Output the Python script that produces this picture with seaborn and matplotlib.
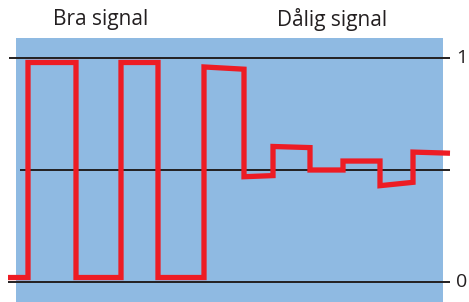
import pandas as pd
import seaborn as sns
import matplotlib.pyplot as plt

# signal vertices (x in picture units, y as signal level 0..1)
signal_x = [8, 28, 28, 76, 76, 121, 121, 158, 158, 204, 204, 244, 244, 273, 273,
            310, 310, 343, 343, 380, 380, 413, 413, 450]
signal_y = [0.02, 0.02, 0.98, 0.98, 0.02, 0.02, 0.98, 0.98, 0.02, 0.02, 0.96, 0.95,
            0.47, 0.475, 0.605, 0.60, 0.50, 0.50, 0.54, 0.54, 0.43, 0.445, 0.58, 0.575]

levels = [1, 0.5, 0]
level_labels = ["1", "", "0"]
level_starts = [9, 20, 8]
sections = ["Bra signal", "Dålig signal"]
section_x = [101, 332]

sns.set_style("white")
plt.rcParams['font.family'] = ['Open Sans', 'DejaVu Sans']

fig = plt.figure(figsize=(4.69, 3.02), dpi=100)
ax = fig.add_axes([0, 0, 1, 1])
ax.set_xlim(0, 469)
ax.set_ylim(-20 / 224, 282 / 224)

# blue panel
ax.axvspan(16, 443, ymin=0, ymax=(302 - 38) / 302, color="#8fbae2", lw=0, zorder=0)

# reference lines
for lvl, start, lab in zip(levels, level_starts, level_labels):
    ax.hlines(lvl, start, 450, color="#231f20", lw=1.4, zorder=1)
    if lab:
        ax.text(456, lvl, lab, ha="left", va="center", fontsize=14, color="#231f20")

df = pd.DataFrame({"x": signal_x, "y": signal_y})
sns.lineplot(data=df, x="x", y="y", sort=False, estimator=None, color="#ed1c24",
             lw=3.8, ax=ax, zorder=2)
ax.lines[-1].set_solid_joinstyle("miter")
ax.lines[-1].set_solid_capstyle("butt")
ax.axis("off")

for name, xpos in zip(sections, section_x):
    ax.text(xpos, (282 - 20) / 224, name, ha="center", va="center", fontsize=15,
            color="#231f20")

fig.savefig("out.png", dpi=100)
